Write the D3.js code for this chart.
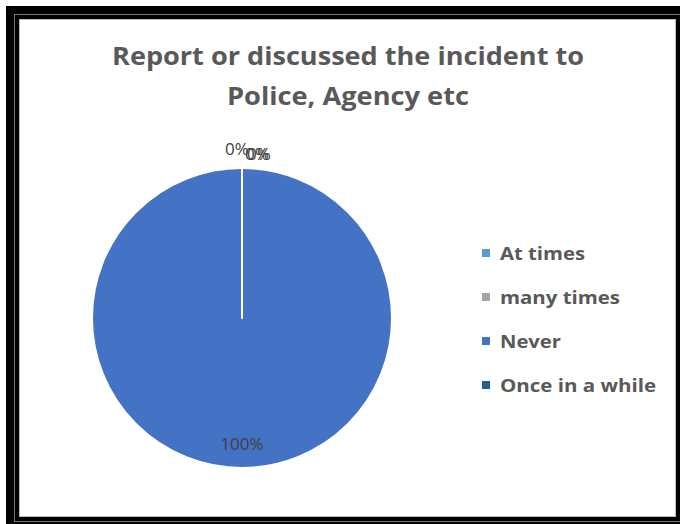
<!DOCTYPE html>
<html>
<head>
<meta charset="utf-8">
<script src="https://cdn.jsdelivr.net/npm/d3@7"></script>
<style>
  html, body { margin: 0; padding: 0; background: #fff; }
  svg { display: block; }
</style>
</head>
<body>
<svg id="chart" width="680" height="524"></svg>
<script>
const categories = ["At times", "many times", "Never", "Once in a while"];
const values = [0, 0, 100, 0];
const colors = ["#5B9BD5", "#A5A5A5", "#4472C4", "#255E91"];
const titleLines = ["Report or discussed the incident to", "Police, Agency etc"];

const svg = d3.select("#chart");
const W = 680, H = 524;

// Frame: heavy dark border with thin grey rules
svg.append("rect").attr("x", 6).attr("y", 6).attr("width", W - 6).attr("height", H - 6).attr("fill", "#000");
svg.append("rect").attr("x", 14.5).attr("y", 14.5).attr("width", 668).attr("height", 507)
  .attr("fill", "none").attr("stroke", "#777").attr("stroke-width", 1);
svg.append("rect").attr("x", 19).attr("y", 19).attr("width", 657).attr("height", 498).attr("fill", "#fff");
svg.append("rect").attr("x", 19.5).attr("y", 19.5).attr("width", 656).attr("height", 497)
  .attr("fill", "none").attr("stroke", "#bbb").attr("stroke-width", 1);

// Title
const titleFont = "Open Sans, Noto Sans, sans-serif";
const titleWidths = [472, 242];
titleLines.forEach((t, i) => {
  svg.append("text")
    .attr("x", 348).attr("y", 65 + i * 40)
    .attr("text-anchor", "middle")
    .attr("font-family", titleFont)
    .attr("font-weight", "bold")
    .attr("font-size", 25)
    .attr("fill", "#595959")
    .attr("textLength", titleWidths[i])
    .attr("lengthAdjust", "spacingAndGlyphs")
    .text(t);
});

// Pie
const cx = 242, cy = 318, r = 150;
const data = categories.map((c, i) => ({ cat: c, value: values[i], color: colors[i] }));
const pie = d3.pie().value(d => d.value).sort(null);
const arcs = pie(data);
const arc = d3.arc().innerRadius(0).outerRadius(r);

const g = svg.append("g").attr("transform", `translate(${cx},${cy})`);
g.selectAll("path.slice")
  .data(arcs)
  .join("path")
  .attr("class", "slice")
  .attr("d", arc)
  .attr("fill", d => d.data.color)
  .attr("stroke", "#fff")
  .attr("stroke-width", 2)
  .attr("stroke-linejoin", "round");

// Data labels
const total = d3.sum(values);
const fmt = v => Math.round(v / total * 100) + "%";
const insideArc = d3.arc().innerRadius(r * 0.83).outerRadius(r * 0.83);
const outsideArc = d3.arc().innerRadius(r + 18).outerRadius(r + 18);
let zeroIdx = 0;
const zeroOffsets = [[-5, 5], [15, 10], [17, 10]];
g.selectAll("text.lbl")
  .data(arcs)
  .join("text")
  .attr("class", "lbl")
  .attr("text-anchor", "middle")
  .attr("font-family", "Open Sans, Noto Sans, sans-serif")
  .attr("font-size", 17)
  .attr("fill", "#404040")
  .attr("transform", d => {
    if (d.data.value > 0) {
      const [x, y] = insideArc.centroid(d);
      return `translate(${x},${y + 7})`;
    }
    const [x, y] = outsideArc.centroid(d);
    const off = zeroOffsets[zeroIdx++] || [0, 0];
    return `translate(${x + off[0]},${y + off[1]})`;
  })
  .text(d => fmt(d.data.value));

// Legend
const legendWidths = [85, 120, 61, 156];
const legend = svg.append("g").attr("transform", "translate(482,253)");
const rows = legend.selectAll("g")
  .data(data)
  .join("g")
  .attr("transform", (d, i) => `translate(0,${i * 44})`);
rows.append("rect")
  .attr("x", 0).attr("y", -4).attr("width", 8).attr("height", 8)
  .attr("fill", d => d.color);
rows.append("text")
  .attr("x", 18).attr("y", 7)
  .attr("font-family", "Open Sans, Noto Sans, sans-serif")
  .attr("font-weight", "bold")
  .attr("font-size", 18)
  .attr("fill", "#595959")
  .attr("textLength", (d, i) => legendWidths[i])
  .attr("lengthAdjust", "spacingAndGlyphs")
  .text(d => d.cat);
</script>
</body>
</html>
